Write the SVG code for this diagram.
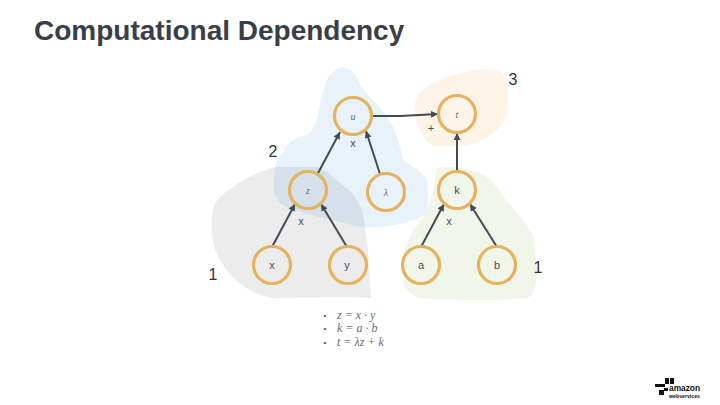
<svg xmlns="http://www.w3.org/2000/svg" width="720" height="405" viewBox="0 0 720 405">
<style>
text{font-family:"Liberation Sans",Arial,sans-serif;fill:#4a4f57}
.n{fill:none;stroke:#e6b25e;stroke-width:3.200}
.c{fill:none;stroke:#444a52;stroke-width:2;marker-end:url(#a)}
.l{font-size:11px;text-anchor:middle}
.m{font-family:"Liberation Serif",serif;font-style:italic;font-size:10px;text-anchor:middle;fill:#666b73}
.b{font-size:16px;text-anchor:middle;fill:#333}
.f{font-family:"Liberation Serif",serif;font-style:italic;font-size:12px;fill:#666b73}
</style>
<defs><marker id="a" markerUnits="userSpaceOnUse" markerWidth="9" markerHeight="9" refX="7" refY="3.500" orient="auto"><path d="M0 0L7 3.500L0 7z" fill="#444a52"/></marker></defs>
<rect width="720" height="405" fill="#fff"/>
<text x="34" y="40" font-size="28" font-weight="700" style="fill:#3a3f47">Computational Dependency</text>
<g id="regions">
<path id="r3" d="M415 103C418 92 430 82 453 75C470 70 490 67 499 71C506 76 509 85 508 100C509 115 503 126 494 132C480 143 470 146 450 146C435 146 428 146 424 138C419 130 413 115 415 103Z" fill="#fdf4e7"/>
<path id="r4" d="M437 168C455 165 472 170 482 174C495 182 500 192 505 199C515 210 528 225 534 238C536 255 537 270 536 282C534 292 532 297 526 298C500 301 465 300 440 299C420 300 408 296 404 285C403 270 403 258 405 250C408 240 412 232 418 224C428 212 434 195 437 168Z" fill="#f0f6e9"/>
<path id="r1" d="M317 167C300 167 285 167 273 168C258 172 245 178 233 187C225 192 220 197 215 203C212 212 211 222 212 232C213 245 216 253 220 260C226 270 232 277 240 283C250 292 262 296 273 298C305 298 340 296 371 298L368 250L365 228L363 213C358 198 350 190 340 183C332 175 325 170 317 167Z" fill="#ececec"/>
<path id="r2" d="M343 67C352 68 356 76 360 84C364 90 366 93 370 97C378 105 387 115 393 127C398 138 401 150 403 160C412 167 424 172 427 181C429 195 428 205 427 213C420 218 412 221 403 223C390 226 378 227 365 228L363 213C358 198 350 190 340 183C332 175 325 170 317 167C300 167 285 167 275 167C277 160 280 156 283 153C286 147 289 143 293 140C299 138 305 136 310 133C313 128 315 124 317 120C320 105 322 92 327 80C331 72 337 68 343 67Z" fill="#e8f2fb"/>
<path id="r12" d="M317 167C325 170 332 175 340 183C350 190 358 198 363 213L365 228C355 226 345 223 333 220C322 218 310 215 300 212C292 210 285 207 280 203C276 198 273 193 274 188C274 180 274 173 275 167C285 167 300 167 317 167Z" fill="#d6e0ea"/>
</g>
<g id="connectors">
<line class="c" x1="317" y1="175" x2="340" y2="132"/>
<line class="c" x1="380" y1="174" x2="366" y2="131"/>
<path class="c" d="M371 116L400 116L438 114"/>
<line class="c" x1="457" y1="171" x2="457" y2="133"/>
<line class="c" x1="272" y1="247" x2="295" y2="204"/>
<line class="c" x1="347" y1="247" x2="321" y2="204"/>
<line class="c" x1="421" y1="247" x2="444" y2="204"/>
<line class="c" x1="497" y1="247" x2="470" y2="204"/>
</g>
<g id="node-u"><circle class="n" cx="353" cy="116" r="18.500"/><text class="m" x="353" y="120">u</text></g>
<g id="node-t"><circle class="n" cx="457" cy="114" r="18.500"/><text class="m" x="457" y="118">t</text></g>
<g id="node-z"><circle class="n" cx="308" cy="190" r="18.500"/><text class="m" x="308" y="194">z</text></g>
<g id="node-lambda"><circle class="n" cx="386" cy="192" r="18.500"/><text class="m" x="386" y="196">λ</text></g>
<g id="node-k"><circle class="n" cx="457" cy="190" r="18.500"/><text class="l" x="457" y="194">k</text></g>
<g id="node-x"><circle class="n" cx="272" cy="265" r="18.500"/><text class="l" x="272" y="269">x</text></g>
<g id="node-y"><circle class="n" cx="348" cy="265" r="18.500"/><text class="l" x="347" y="269">y</text></g>
<g id="node-a"><circle class="n" cx="421" cy="265" r="18.500"/><text class="l" x="421" y="269">a</text></g>
<g id="node-b"><circle class="n" cx="497" cy="265" r="18.500"/><text class="l" x="497" y="269">b</text></g>
<g id="labels">
<text class="l" x="353" y="147">x</text>
<text class="l" x="431" y="132">+</text>
<text class="l" x="301" y="225">x</text>
<text class="l" x="449" y="225">x</text>
<text class="b" x="513" y="85">3</text>
<text class="b" x="273" y="157">2</text>
<text class="b" x="213" y="280">1</text>
<text class="b" x="538" y="273">1</text>
</g>
<g id="formulas">
<text class="l" style="font-size:8px" x="325" y="318">•</text>
<text class="l" style="font-size:8px" x="325" y="331">•</text>
<text class="l" style="font-size:8px" x="325" y="345">•</text>
<text class="f" x="337" y="319">z = x · y</text>
<text class="f" x="337" y="332">k = a · b</text>
<text class="f" x="337" y="346">t = λz + k</text>
</g>
<g id="logo">
<path d="M665 378h4v6h-4zM670 378h4v6h-4zM655 384h10v3h-10zM659 390h5v5h-5zM664 388h4v3h-4z" fill="#111"/>
<text x="669" y="391" font-size="9.500" font-weight="700" textLength="31" lengthAdjust="spacingAndGlyphs" style="fill:#111">amazon</text>
<text x="669" y="398" font-size="5.500" font-weight="700" textLength="31" lengthAdjust="spacingAndGlyphs" style="fill:#111">webservices</text>
</g>
</svg>
